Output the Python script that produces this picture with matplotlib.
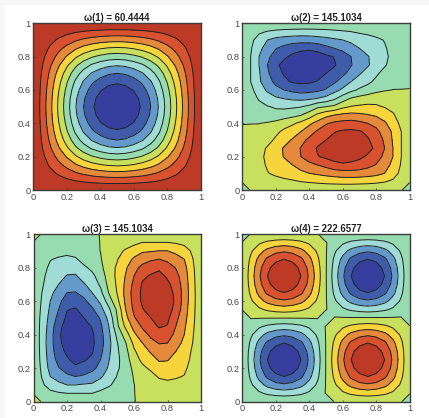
import numpy as np
import matplotlib
matplotlib.use("Agg")
import matplotlib.pyplot as plt
from matplotlib.colors import ListedColormap, BoundaryNorm
from matplotlib.patches import Rectangle

plt.rcParams['font.family'] = ['Liberation Sans', 'DejaVu Sans']

titles = ["ω(1) = 60.4444", "ω(2) = 145.1034", "ω(3) = 145.1034", "ω(4) = 222.6577"]
tick_values = [0, 0.2, 0.4, 0.6, 0.8, 1]
tick_labels = ["0", "0.2", "0.4", "0.6", "0.8", "1"]
band_colors = ["#363f9e", "#3f5cab", "#6499cb", "#9fdcd6", "#97dbb0",
               "#c9e05f", "#f6d53c", "#e5893a", "#d9522f", "#bd3a26"]
levels = [-6, -4, -3, -2, -1, 0, 1, 2, 3, 4, 6]

# Mode 1: lower-left quarter (y = 0..0.5, x = 0..0.5, step 0.05), on a 0 (centre) .. 10 (edge) scale
mode1_quarter = np.array([
    [10, 10, 10, 10, 10, 10, 10, 10, 10, 10, 10],
    [10, 9.83, 9.65, 9.46, 9.28, 9.10, 8.96, 8.85, 8.77, 8.72, 8.70],
    [10, 9.65, 9.27, 8.88, 8.50, 8.14, 7.84, 7.61, 7.45, 7.34, 7.30],
    [10, 9.46, 8.88, 8.28, 7.70, 7.14, 6.68, 6.33, 6.08, 5.91, 5.85],
    [10, 9.28, 8.50, 7.70, 6.92, 6.17, 5.56, 5.09, 4.76, 4.53, 4.45],
    [10, 9.10, 8.14, 7.14, 6.17, 5.24, 4.48, 3.89, 3.48, 3.20, 3.10],
    [10, 8.96, 7.84, 6.68, 5.56, 4.48, 3.60, 2.92, 2.44, 2.12, 2.00],
    [10, 8.85, 7.61, 6.33, 5.09, 3.89, 2.92, 2.17, 1.64, 1.28, 1.15],
    [10, 8.77, 7.45, 6.08, 4.76, 3.48, 2.44, 1.64, 1.07, 0.69, 0.55],
    [10, 8.72, 7.34, 5.91, 4.53, 3.20, 2.12, 1.28, 0.69, 0.30, 0.15],
    [10, 8.70, 7.30, 5.85, 4.45, 3.10, 2.00, 1.15, 0.55, 0.15, 0.00],
])

# Mode 2: rows y = 0.5 .. 1, columns x = 0 .. 1, step 0.05
mode2_top = np.array([
    [-.1,-.4,-.75,-.95,-1.1,-1.2,-1.15,-1.05,-.75,-.2,0,.2,.75,1.05,1.15,1.2,1.1,.95,.75,.4,.1],
    [-.1,-.6,-1.1,-1.55,-1.85,-2.05,-2.2,-2.3,-2.2,-2.0,-1.7,-1.2,-.5,.05,.3,.5,.7,.75,.75,.45,.1],
    [-.1,-.75,-1.5,-2.15,-2.7,-3.0,-3.25,-3.4,-3.35,-3.2,-2.9,-2.35,-1.8,-1.25,-.85,-.6,-.3,-.1,.02,.02,.02],
    [-.1,-1.0,-1.85,-2.6,-3.25,-3.8,-4.1,-4.2,-4.15,-3.95,-3.6,-3.15,-2.6,-2.0,-1.55,-1.2,-.8,-.5,-.3,-.2,-.1],
    [-.1,-1.0,-1.9,-2.85,-3.6,-4.1,-4.4,-4.55,-4.5,-4.3,-4.0,-3.65,-3.2,-2.7,-2.1,-1.6,-1.15,-.7,-.4,-.2,-.1],
    [-.1,-1.0,-2.0,-3.0,-3.8,-4.3,-4.65,-4.85,-4.9,-4.8,-4.5,-4.1,-3.55,-3.05,-2.55,-2.1,-1.6,-1.1,-.65,-.3,-.1],
    [-.1,-1.0,-2.0,-2.8,-3.4,-3.85,-4.2,-4.45,-4.5,-4.4,-4.2,-3.95,-3.55,-3.0,-2.5,-2.05,-1.65,-1.2,-.75,-.3,-.1],
    [-.1,-.9,-1.75,-2.4,-2.95,-3.3,-3.6,-3.75,-3.85,-3.7,-3.3,-3.0,-2.7,-2.35,-2.0,-1.7,-1.4,-1.1,-.7,-.3,-.1],
    [-.1,-.7,-1.5,-2.0,-2.3,-2.45,-2.55,-2.6,-2.55,-2.45,-2.3,-2.15,-2.0,-1.8,-1.6,-1.4,-1.2,-.95,-.6,-.3,-.1],
    [-.1,-.4,-.8,-1.05,-1.2,-1.3,-1.35,-1.4,-1.4,-1.35,-1.3,-1.2,-1.1,-1.0,-.85,-.75,-.6,-.45,-.3,-.15,-.1],
    [-.1,-.1,-.1,-.1,-.1,-.1,-.1,-.1,-.1,-.1,-.1,-.1,-.1,-.1,-.1,-.1,-.1,-.1,-.1,-.1,-.1],
])
mode2_bottom_corner = -0.8

# Mode 4: one quarter of one lobe (step 0.05), from the cell corner to the lobe centre
mode4_quarter = np.array([
    [-.8, .05, .05, .05, .05, .05],
    [.05, .42, .83, 1.16, 1.36, 1.45],
    [.05, .83, 1.62, 2.28, 2.68, 2.85],
    [.05, 1.16, 2.28, 3.20, 3.76, 4.00],
    [.05, 1.36, 2.68, 3.76, 4.42, 4.70],
    [.05, 1.45, 2.85, 4.00, 4.70, 5.00],
])


def mirror(q):
    r = np.hstack([q, q[:, -2::-1]])
    return np.vstack([r, r[-2::-1, :]])


z1 = mirror(mode1_quarter) - 5

z2 = np.vstack([-mode2_top[:0:-1, ::-1], mode2_top])
z2[0, 0] = z2[0, -1] = mode2_bottom_corner
z3 = -z2.T[::-1, :]

red = mirror(mode4_quarter)
blue = -np.abs(red)
z4 = np.zeros((21, 21))
z4[:11, :11] = blue
z4[10:, 10:] = blue
z4[:11, 10:] = red
z4[10:, :11] = red

grid = np.linspace(0, 1, 21)
fields = [z1, z2, z3, z4]
# axes boxes in pixels: left, top, right, bottom
boxes = [(33.3, 23.3, 201, 190), (242.3, 23.3, 409.7, 190),
         (33.5, 234, 201, 401.7), (242.3, 234, 409.7, 401.7)]
title_pads = [2, 2, 1.2, 1.2]

W, H = 429, 418
fig = plt.figure(figsize=(W / 100, H / 100), dpi=100, facecolor="#f7f7f7")
fig.add_artist(Rectangle((5 / W, 0), 1 - 5 / W, 1 - 5 / H, transform=fig.transFigure,
                         facecolor="white", edgecolor="none", zorder=-1))
cmap = ListedColormap(band_colors)
norm = BoundaryNorm(levels, cmap.N)
for title, z, (l, t, r, b), pad in zip(titles, fields, boxes, title_pads):
    ax = fig.add_axes([l / W, 1 - b / H, (r - l) / W, (b - t) / H])
    ax.contourf(grid, grid, z, levels=levels, cmap=cmap, norm=norm)
    ax.contour(grid, grid, z, levels=levels[1:-1], colors="#1c2320",
               linewidths=0.7, linestyles="solid")
    ax.set_xlim(0, 1)
    ax.set_ylim(0, 1)
    ax.set_xticks(tick_values, tick_labels)
    ax.set_yticks(tick_values, tick_labels)
    ax.tick_params(direction="in", length=1.5, width=0.5, labelsize=6.7,
                   labelcolor="#4a4a4a", color="#333333", pad=2)
    for s in ax.spines.values():
        s.set_linewidth(1.0)
        s.set_color("#3a3f3c")
    ax.set_title(title, fontsize=6.9, fontweight="bold", color="#222222", pad=pad)
fig.savefig("out.png", dpi=100, facecolor=fig.get_facecolor())
